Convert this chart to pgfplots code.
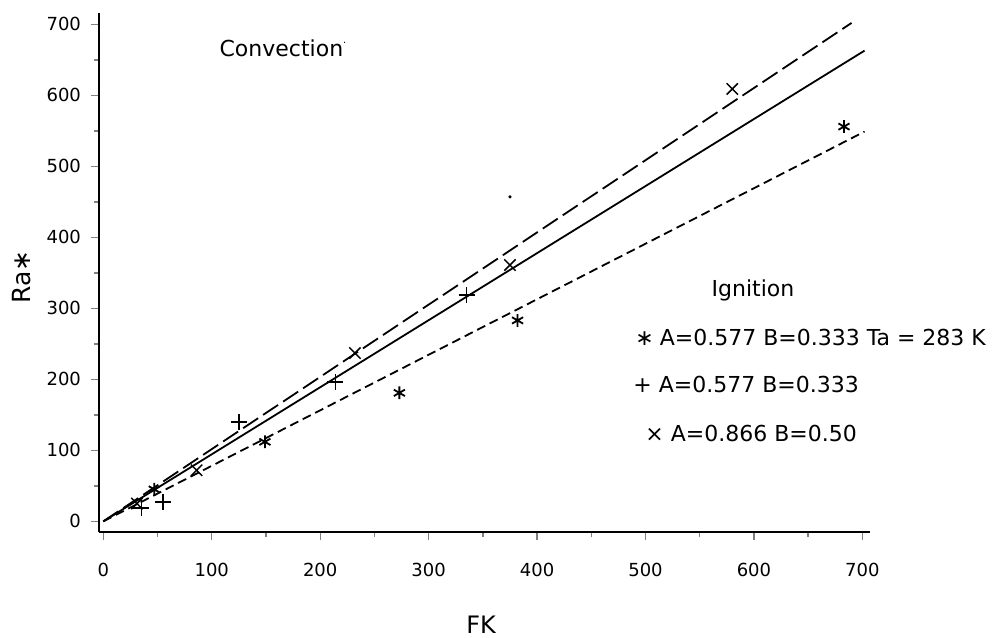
\documentclass[border=0pt]{standalone}
\usepackage{fontspec}
\setmainfont{DejaVu Sans}
\usepackage{pgfplots}
\pgfplotsset{compat=1.18}
\begin{document}
\begin{tikzpicture}
\useasboundingbox (-49.5pt,-53pt) rectangle (452pt,266pt);
\begin{axis}[
  scale only axis, width=385.5pt, height=259.5pt,
  xmin=-4, xmax=707, ymin=-15, ymax=716,
  axis x line=bottom, axis y line=left,
  axis line style={-, line width=0.9pt},
  xtick={0,100,...,700}, ytick={0,100,...,700},
  minor x tick num=1, minor y tick num=1,
  tick align=outside,
  xtick style={line width=0.7pt},
  ytick style={line width=0.7pt},
  major tick length=4pt, minor tick length=2.5pt,
  /pgf/number format/assume math mode=true,
  ticklabel style={font=\fontsize{9}{10}\selectfont},
  xticklabel style={yshift=-8pt},
  yticklabel style={xshift=-1.5pt},
  xlabel={FK}, ylabel={Ra∗},
  xlabel style={font=\fontsize{12}{14}\selectfont, at={(axis description cs:0.4955,-0.178)}, anchor=center, inner sep=0pt},
  ylabel style={font=\fontsize{12.5}{14}\selectfont, at={(axis description cs:-0.0999,0.491)}, anchor=center, rotate=0},
  clip=false,
]
% fitted lines
\addplot[black, line width=0.9pt, dash pattern=on 9pt off 3pt] coordinates {(0,0) (690,702)};
\addplot[black, line width=0.9pt] coordinates {(0,0) (702,663)};
\addplot[black, line width=0.9pt, dash pattern=on 4.5pt off 2.5pt] coordinates {(0,0) (702,549)};
% asterisk points: A=0.577 B=0.333 Ta=283 K
\addplot[only marks, mark=asterisk, mark size=3.2pt, mark options={line width=0.9pt}] coordinates {
(47,45) (149,112) (273,181) (382,283) (683,556)};
% plus points: A=0.577 B=0.333
\addplot[only marks, mark=+, mark size=4pt, mark options={line width=0.75pt}] coordinates {
(35,19) (55,27) (125,140) (214,196) (335,319)};
% x points: A=0.866 B=0.50
\addplot[only marks, mark=x, mark size=4pt, mark options={line width=0.75pt}] coordinates {
(31,25) (86,72) (232,237) (375,361) (580,609)};
% stray dot
\addplot[only marks, mark=*, mark size=0.6pt] coordinates {(375,457)};
\end{axis}
\node[font=\fontsize{11}{13}\selectfont] at (92pt,242pt) {Convection\raisebox{0.6em}{\fontsize{5}{6}\selectfont .}};
\node[font=\fontsize{11}{13}\selectfont] at (327pt,121pt) {Ignition};
\node[font=\fontsize{11}{13}\selectfont, anchor=west, inner sep=0pt] at (268pt,97.5pt) {∗\hspace{3pt}A=0.577 B=0.333 Ta = 283 K};
\node[font=\fontsize{11}{13}\selectfont, anchor=west, inner sep=0pt] at (267pt,74pt) {+ A=0.577 B=0.333};
\node[font=\fontsize{11}{13}\selectfont, anchor=west, inner sep=0pt] at (273pt,49.5pt) {× A=0.866 B=0.50};
\end{tikzpicture}
\end{document}
